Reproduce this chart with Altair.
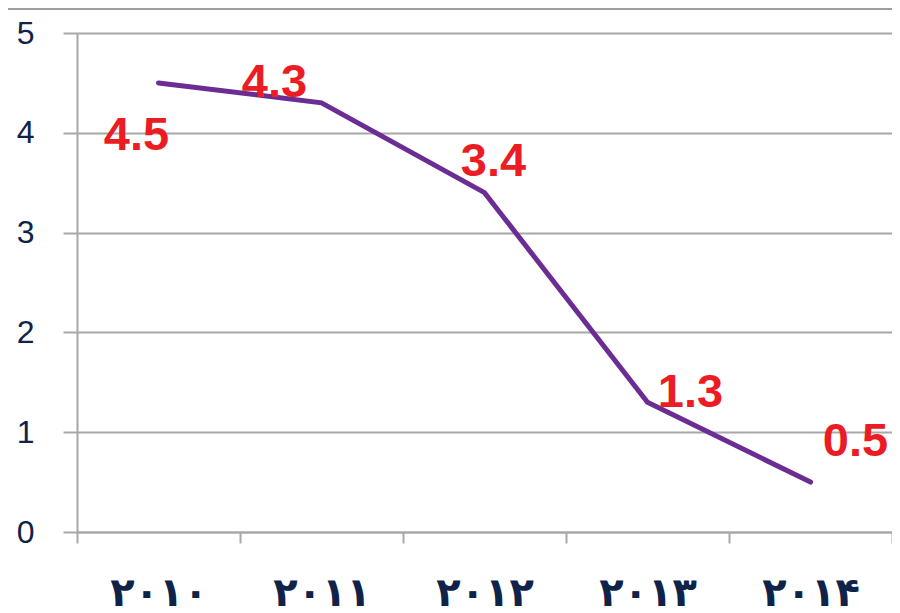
import altair as alt
import pandas as pd

years = ["2010", "2011", "2012", "2013", "2014"]
labels_fa = ["۲۰۱۰", "۲۰۱۱", "۲۰۱۲", "۲۰۱۳", "۲۰۱۴"]
values = [4.5, 4.3, 3.4, 1.3, 0.5]
value_text = ["4.5", "4.3", "3.4", "1.3", "0.5"]
y_ticks = [0, 1, 2, 3, 4, 5]

df = pd.DataFrame({
    "year": years,
    "pos": [i + 0.5 for i in range(len(years))],
    "value": values,
    "label": value_text,
})

W, H = 815, 499
GRAY = "#a8a8a8"
NAVY = "#0f2348"
RED = "#ec1c24"
PURPLE = "#6b2c93"

fa_array = "[" + ",".join("'" + s + "'" for s in labels_fa) + "]"
label_expr = f"datum.value % 1 == 0 ? '' : {fa_array}[floor(datum.value)]"

x_values = [i * 0.5 for i in range(2 * len(years) + 1)]

x_enc = alt.X(
    "pos:Q",
    scale=alt.Scale(domain=[0, len(years)], nice=False, zero=False),
    axis=alt.Axis(
        values=x_values,
        labelExpr=label_expr,
        title=None,
        grid=False,
        domainColor=GRAY,
        domainWidth=2,
        tickColor=GRAY,
        tickWidth=2,
        tickSize=11,
        tickOpacity={"condition": {"test": "datum.value % 1 == 0", "value": 1}, "value": 0},
        labelFont="DejaVu Sans",
        labelFontWeight="bold",
        labelFontSize=40,
        labelColor=NAVY,
        labelPadding=50,
        labelOverlap=False,
        labelFlush=False,
        labelBaseline="middle",
    ),
)

y_enc = alt.Y(
    "value:Q",
    scale=alt.Scale(domain=[0, 5], nice=False),
    axis=alt.Axis(
        values=y_ticks,
        format="d",
        title=None,
        grid=True,
        gridColor=GRAY,
        gridWidth=2,
        domainColor=GRAY,
        domainWidth=2,
        tickColor=GRAY,
        tickWidth=2,
        tickSize=14,
        labelFont="Liberation Sans",
        labelFontSize=32,
        labelColor=NAVY,
        labelPadding=29,
        labelFlush=False,
    ),
)

base = alt.Chart(df)

line = base.mark_line(color=PURPLE, strokeWidth=5, strokeCap="round", strokeJoin="miter").encode(
    x=x_enc, y=y_enc
)

offsets = [(-22, 53), (-47, -20), (9, -31), (43, -9), (45, -40)]
texts = []
for yr, (dx, dy) in zip(years, offsets):
    texts.append(
        base.transform_filter(alt.datum.year == yr)
        .mark_text(
            font="Liberation Sans",
            fontWeight="bold",
            fontSize=47,
            color=RED,
            align="center",
            baseline="middle",
            dx=dx,
            dy=dy,
        )
        .encode(x="pos:Q", y="value:Q", text="label:N")
    )

top_rule = alt.Chart(pd.DataFrame({"a": [0]})).mark_rule(color="#9e9e9e", strokeWidth=2).encode(
    x=alt.value(-69), x2=alt.value(W + 10), y=alt.value(-24)
)

chart = alt.layer(line, *texts, top_rule).properties(
    width=W,
    height=H,
    autosize=alt.AutoSizeParams(type="none"),
    padding={"left": 69, "top": 25, "right": 0, "bottom": 81},
).configure_view(stroke=None).configure(background="white")

chart.save("out.html", embed_options={"renderer": "svg", "actions": False})
